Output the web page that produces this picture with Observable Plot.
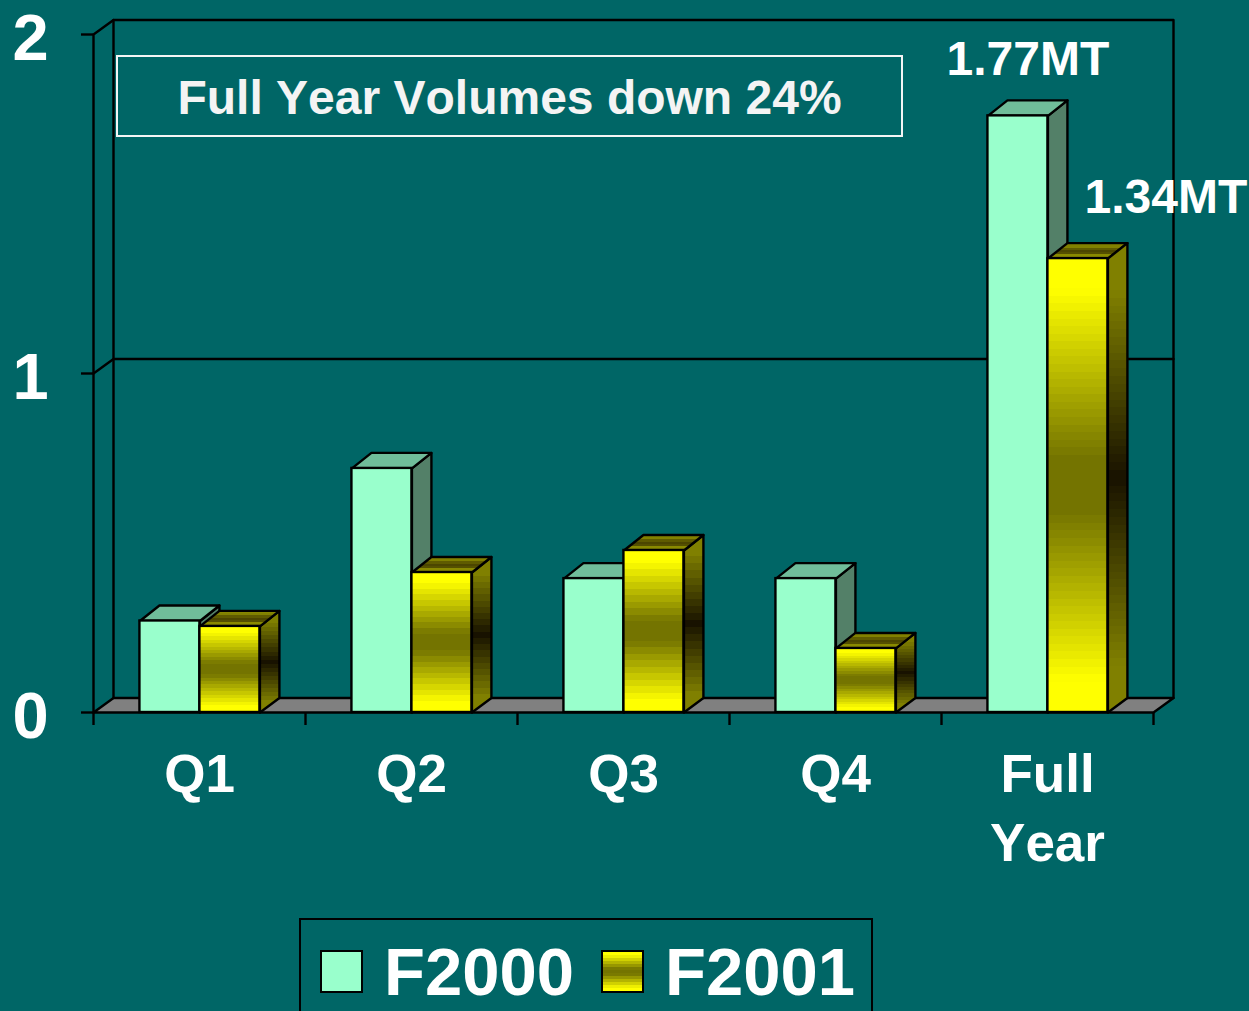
<!DOCTYPE html>
<html><head><meta charset="utf-8">
<script src="https://cdn.jsdelivr.net/npm/d3@7"></script>
<script src="https://cdn.jsdelivr.net/npm/@observablehq/plot@0.6"></script>
<style>
html,body{margin:0;padding:0;background:#006666;overflow:hidden}
#page{position:relative;width:1249px;height:1011px;overflow:hidden;font-family:"Liberation Sans",Arial,sans-serif;font-weight:bold;color:#fff;font-kerning:none}
#chart text{font-kerning:none}
#note{position:absolute;left:116px;top:55px;width:783px;height:78px;border:2px solid #f4f4f4;text-align:center;font-size:48px;line-height:82px;color:#f4f4f4}
#legend{position:absolute;left:299px;top:918px;width:570px;height:130px;border:2px solid #000}
#legend span{position:absolute;font-size:67px;line-height:67px;top:18px}
#legend i{position:absolute;top:30px;width:39px;height:39px;border:2px solid #000}
</style></head>
<body><div id="page">
<div id="chart"></div>
<div id="note"></div>
<div id="legend"></div>
</div>
<script>
const categories = ["Q1", "Q2", "Q3", "Q4", "Full\nYear"];
const f2000 = [0.27, 0.72, 0.395, 0.395, 1.76];
const f2001 = [0.254, 0.413, 0.478, 0.189, 1.339];
const seriesNames = ["F2000", "F2001"];
const endLabels = ["1.77MT", "1.34MT"];
const noteText = "Full Year Volumes down 24%";
const yTicks = [0, 1, 2];

// chart-box and bar depth, in data units
const depthX = 20 / 212, depthY = 14.5 / 339;
const barDepthX = 19.5 / 212, barTopDepthY = 15.5 / 339;
const barW = 0.283, centre = 0.502;
const lineW = 2.4;

const goldRamp = [[0,"#ffff00"],[0.07,"#ffff00"],[0.44,"#747400"],[0.56,"#747400"],[0.93,"#ffff00"],[1,"#ffff00"]];
const sideRamp = [[0,"#808000"],[0.1,"#808000"],[0.5,"#181200"],[0.9,"#808000"],[1,"#808000"]];
const topRamp  = [[0,"#8a8a00"],[0.25,"#808000"],[0.42,"#4c4600"],[0.62,"#4c4600"],[0.78,"#8a8a00"],[1,"#8a8a00"]];
const sample = (ramp, t) => {
  const k = ramp.findIndex(([o]) => o >= t);
  if (k <= 0) return ramp[0][1];
  const [o0, c0] = ramp[k - 1], [o1, c1] = ramp[k];
  return d3.interpolateRgb(c0, c1)((t - o0) / (o1 - o0));
};
// hard colour bands, as in the stepped gradient fill of the original
const bandStops = (ramp, n) => d3.range(n).flatMap(i => {
  const c = sample(ramp, (i + 0.5) / n);
  return [[i / n, c], [(i + 1) / n, c]];
});
const grad = (id, stops) => `<linearGradient id="${id}" x1="0" x2="0" y1="0" y2="1">` +
  stops.map(([o,c]) => `<stop offset="${o}" stop-color="${c}"/>`).join("") + `</linearGradient>`;
const defs = () => {
  const d = document.createElementNS("http://www.w3.org/2000/svg", "defs");
  d.innerHTML = grad("gold", bandStops(goldRamp, 25)) + grad("goldFine", bandStops(goldRamp, 60)) +
    grad("goldSide", bandStops(sideRamp, 25)) + grad("goldSideFine", bandStops(sideRamp, 60)) +
    grad("goldTop", bandStops(topRamp, 7));
  return d;
};

const bars = (vals, offset) => vals.map((v, i) => ({i, v, x1: i + centre + offset, x2: i + centre + offset + barW}));
const side = (rows) => rows.flatMap(r => [[r.x2,0],[r.x2+barDepthX,depthY],[r.x2+barDepthX,r.v+barTopDepthY],[r.x2,r.v]].map(([x,y]) => ({x,y,id:r.i})));
const top_ = (rows) => rows.flatMap(r => [[r.x1,r.v],[r.x2,r.v],[r.x2+barDepthX,r.v+barTopDepthY],[r.x1+barDepthX,r.v+barTopDepthY]].map(([x,y]) => ({x,y,id:r.i})));
const poly = (rows, fill) => Plot.line(rows, {x:"x", y:"y", z:"id", fill, stroke:"#000", strokeWidth:lineW, curve:"linear-closed"});
const seg = (pts) => Plot.line(pts.map(([x,y]) => ({x,y})), {x:"x", y:"y", stroke:"#000", strokeWidth:lineW});
const front = (rows, fill) => Plot.rectY(rows, {x1:"x1", x2:"x2", y1:0, y2:"v", fill, stroke:"#000", strokeWidth:lineW, inset:0});

const a = bars(f2000, -barW), b = bars(f2001, 0);
const bSmall = b.slice(0, 4), bTall = b.slice(4);
const xN = categories.length;
const floor = [[0,0],[xN,0],[xN+depthX,depthY],[depthX,depthY]].map(([x,y]) => ({x,y,id:0}));

const chart = Plot.plot({
  width: 1249, height: 918,
  marginLeft: 93, marginRight: 96, marginTop: 34, marginBottom: 206,
  style: {background: "transparent", fontFamily: '"Liberation Sans",Arial,sans-serif', overflow: "visible"},
  x: {domain: [0, xN], axis: null},
  y: {domain: [0, 2], axis: null},
  marks: [
    defs,
    poly(floor, "#808080"),
    seg([[depthX,depthY],[depthX,2+depthY],[xN+depthX,2+depthY],[xN+depthX,depthY]]),
    seg([[0,0],[0,2],[depthX,2+depthY]]),
    seg([[0,1],[depthX,1+depthY],[xN+depthX,1+depthY]]),
    Plot.axisY({ticks: yTicks, tickSize: 12, anchor: "left", stroke: "#000", strokeWidth: lineW, tickFormat: () => "", label: null}),
    Plot.axisY({ticks: yTicks, tickSize: 0, tickPadding: 63, anchor: "left", fill: "#fff",
      fontSize: 65, fontWeight: "bold", textAnchor: "middle", dy: 5, tickFormat: d3.format("d"), label: null}),
    Plot.axisX({ticks: d3.range(xN + 1), tickSize: 13, stroke: "#000", strokeWidth: lineW, tickFormat: () => "", label: null}),
    poly(side(a), "#538068"), poly(top_(a), "#70bd9a"), front(a, "#99ffcc"),
    poly(side(bSmall), "url(#goldSide)"), poly(top_(b), "url(#goldTop)"), front(bSmall, "url(#gold)"),
    poly(side(bTall), "url(#goldSideFine)"), front(bTall, "url(#goldFine)"),
    Plot.text(categories, {x: (d,i) => i + 0.5, y: () => 0, text: d => d, lineAnchor: "top", dy: 31, fill: "#fff",
      fontSize: 53, fontWeight: "bold", lineHeight: 1.3}),
    Plot.text([{x: a[4].x1 + barW/2, v: a[4].v, t: endLabels[0]}], {x:"x", y:"v", text:"t", dx:10, dy:-56, fill:"#fff", fontSize:48, fontWeight:"bold"}),
    Plot.text([{x: b[4].x1 + barW/2, v: b[4].v, t: endLabels[1]}], {x:"x", y:"v", text:"t", dx:88, dy:-61, fill:"#fff", fontSize:48, fontWeight:"bold"})
  ]
});
document.getElementById("chart").append(chart);
document.getElementById("note").textContent = noteText;
const css = `linear-gradient(${bandStops(goldRamp, 13).map(([o,c]) => `${c} ${o*100}%`).join(",")})`;
document.getElementById("legend").innerHTML =
  `<i style="left:19px;background:#99ffcc"></i><span style="left:83px">${seriesNames[0]}</span>` +
  `<i style="left:300px;background:${css}"></i><span style="left:364px">${seriesNames[1]}</span>`;
</script>
</body></html>
